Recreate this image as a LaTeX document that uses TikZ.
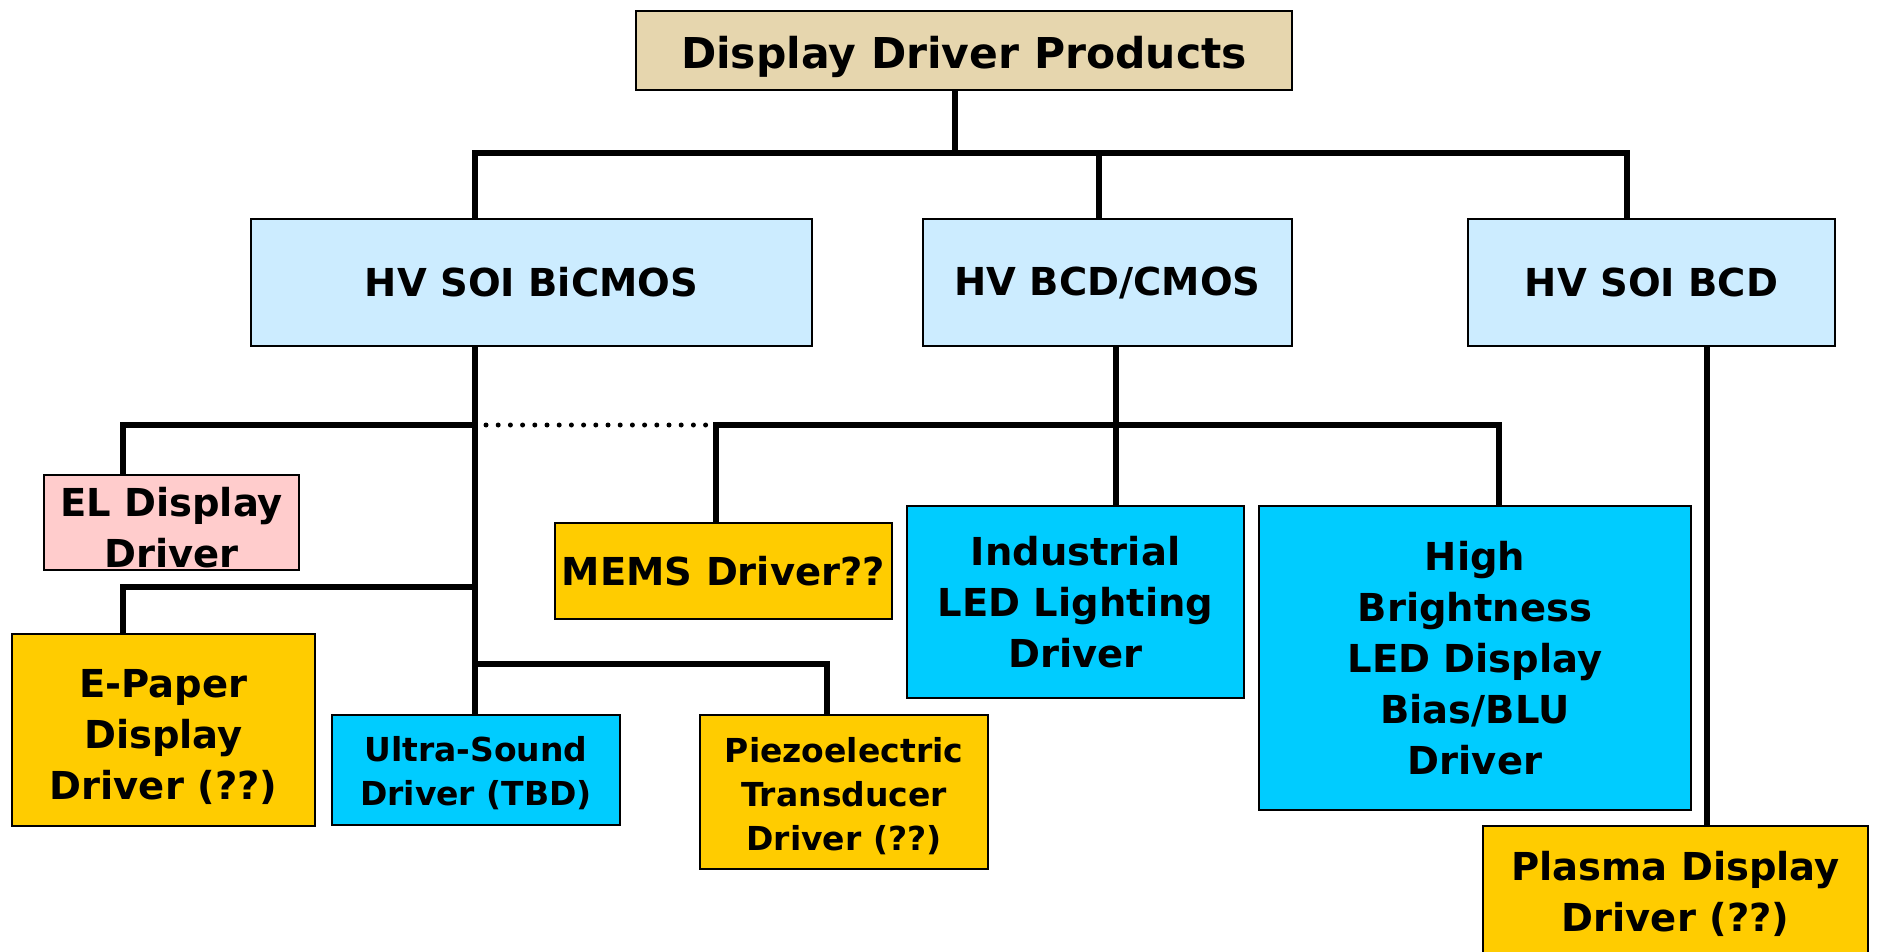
\documentclass[tikz,border=0pt]{standalone}
\usepackage{fontspec}
\setmainfont{DejaVu Sans}
\definecolor{titlefill}{RGB}{230,214,174}
\definecolor{lightblue}{RGB}{204,236,255}
\definecolor{cyanbox}{RGB}{0,204,255}
\definecolor{goldbox}{RGB}{255,204,0}
\definecolor{pinkbox}{RGB}{255,204,204}
\begin{document}
\begin{tikzpicture}[x=1pt,y=-1pt,
  box/.style={draw=black, line width=2.5pt, inner sep=0pt, outer sep=0pt, align=center,
              font=\bfseries\fontsize{38.5}{51}\selectfont},
  txt/.style={inner sep=0pt, align=center, font=\bfseries\fontsize{38.5}{51}\selectfont},
  smalltxt/.style={inner sep=0pt, align=center, font=\bfseries\fontsize{33}{44}\selectfont},
  conn/.style={line width=6pt, line join=miter},
  dotline/.style={line width=5pt, line cap=round, dash pattern=on 0pt off 12.2pt},
]
\useasboundingbox (0,0) rectangle (1877,952);
\path[clip] (0,0) rectangle (1877,952);
\fill[white] (0,0) rectangle (1877,952);

% coordinates for connector lines
\coordinate (xT) at (955,0);
\coordinate (xa) at (475,0);
\coordinate (xb) at (1099,0);
\coordinate (xc) at (1627,0);
\coordinate (xel) at (123,0);
\coordinate (xM) at (716,0);
\coordinate (xI) at (1116,0);
\coordinate (xH) at (1499,0);
\coordinate (xP) at (827,0);
\coordinate (xS) at (1707,0);
\coordinate (ybus) at (0,153);
\coordinate (y2) at (0,425);
\coordinate (y3) at (0,587);
\coordinate (y4) at (0,664);
\coordinate (d1) at (486,425);
\coordinate (d2) at (706,425);

% boxes
\node[box, fill=titlefill, minimum width=656pt, minimum height=79pt] (title) at (964,50.5) {};
\node[box, fill=lightblue, minimum width=561pt, minimum height=127pt] (bicmos) at (531.5,282.5) {HV SOI BiCMOS};
\node[box, fill=lightblue, minimum width=369pt, minimum height=127pt] (bcdcmos) at (1107.5,282.5) {HV BCD/CMOS};
\node[box, fill=lightblue, minimum width=367pt, minimum height=127pt] (soibcd) at (1651.5,282.5) {HV SOI BCD};
\node[box, fill=pinkbox, minimum width=255pt, minimum height=95pt] (el) at (171.5,522.5) {};
\node[box, fill=goldbox, minimum width=303pt, minimum height=192pt] (epaper) at (163.5,730) {};
\node[box, fill=cyanbox, minimum width=288pt, minimum height=110pt] (ultra) at (476,770) {};
\node[box, fill=goldbox, minimum width=288pt, minimum height=154pt] (piezo) at (844,792) {};
\node[box, fill=goldbox, minimum width=337pt, minimum height=96pt] (mems) at (723.5,571) {MEMS Driver??};
\node[box, fill=cyanbox, minimum width=337pt, minimum height=192pt] (indus) at (1075.5,602) {Industrial\\LED Lighting\\Driver};
\node[box, fill=cyanbox, minimum width=432pt, minimum height=304pt] (highb) at (1475,658) {High\\Brightness\\LED Display\\Bias/BLU\\Driver};
\node[box, fill=goldbox, minimum width=385pt, minimum height=170pt, anchor=north] (plasma) at (1675.5,826) {};

% texts placed inside boxes
\node[txt, font=\bfseries\fontsize{42.5}{50}\selectfont] (titletxt) at ([yshift=-6pt]title.center) {Display Driver Products};
\node[txt] (eltxt) at ([yshift=-5pt]el.center) {EL Display\\Driver};
\node[txt] (epapertxt) at ([yshift=-7pt]epaper.center) {E-Paper\\Display\\Driver (??)};
\node[smalltxt] (ultratxt) at ([yshift=-3pt]ultra.center) {Ultra-Sound\\Driver (TBD)};
\node[smalltxt] (piezotxt) at ([yshift=-4pt]piezo.center) {Piezoelectric\\Transducer\\Driver (??)};
\node[txt] (plasmatxt) at (1675.5,894) {Plasma Display\\Driver (??)};

% connectors
\draw[conn] (title.south -| xT) -- (xT |- ybus);
\draw[conn] (bicmos.north -| xa) -- (xa |- ybus) -- (xc |- ybus) -- (soibcd.north -| xc);
\draw[conn] (xb |- ybus) -- (bcdcmos.north -| xb);
\draw[conn] (bicmos.south -| xa) -- (ultra.north -| xa);
\draw[conn] (el.north -| xel) -- (xel |- y2) -- (xa |- y2);
\draw[dotline] (d1) -- (d2);
\draw[conn] (mems.north -| xM) -- (xM |- y2) -- (xH |- y2) -- (highb.north -| xH);
\draw[conn] (bcdcmos.south -| xI) -- (indus.north -| xI);
\draw[conn] (epaper.north -| xel) -- (xel |- y3) -- (xa |- y3);
\draw[conn] (xa |- y4) -- (xP |- y4) -- (piezo.north -| xP);
\draw[conn] (soibcd.south -| xS) -- (plasma.north -| xS);
\end{tikzpicture}
\end{document}
